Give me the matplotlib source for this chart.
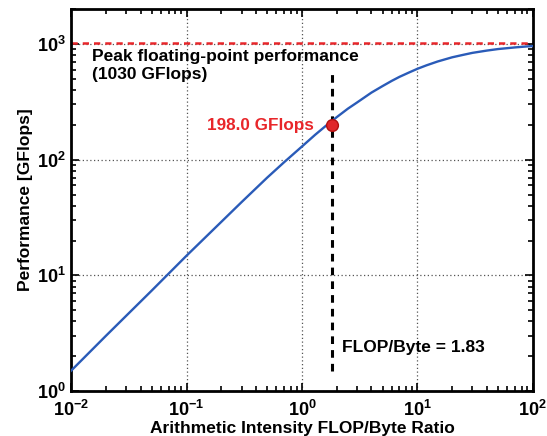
import numpy as np
import matplotlib
matplotlib.use("Agg")
import matplotlib.pyplot as plt
from matplotlib.ticker import LogLocator, FuncFormatter, NullFormatter

plt.rcParams['font.family'] = ['Liberation Sans', 'DejaVu Sans']
plt.rcParams['font.weight'] = 'bold'
plt.rcParams['mathtext.fontset'] = 'custom'
plt.rcParams['mathtext.rm'] = 'Liberation Sans:bold'
plt.rcParams['mathtext.bf'] = 'Liberation Sans:bold'

# curve
intensity = [0.01, 0.02, 0.05, 0.1, 0.2, 0.3, 0.5, 0.7, 1, 1.3, 1.6, 2, 2.5,
             3, 4, 5, 6, 7, 8.5, 10, 12, 15, 20, 25, 30, 40, 50, 60, 70, 85, 100]
perf = [1.5, 3.0, 7.4, 14.8, 29, 43, 70, 95, 130, 164, 195, 233, 276,
        312, 380, 433, 480, 520, 568, 610, 654, 706, 767, 806, 838, 877, 904,
        920, 934, 949, 960]

peak = 1030
ratio = 1.83
point_perf = 198.0
vline_range = [1.5, 590]

fig = plt.figure(figsize=(5.47, 4.36), dpi=100)
ax = fig.add_axes([0.130, 0.103, 0.844, 0.876])

ax.plot(intensity, perf, color='#2a5bb8', lw=1.7, zorder=3)
ax.plot([0.01, 100], [peak, peak], color='#e8262a', lw=1.8, ls=(0, (2.5, 2)), zorder=2)
ax.plot([ratio, ratio], vline_range, color='black', lw=2.2, ls=(0, (2.5, 2)), zorder=2)
ax.plot([ratio], [point_perf], 'o', ms=8.5, mfc='#e0262a', mec='#b01010', mew=1, zorder=4)

ax.set_xscale('log')
ax.set_yscale('log')
ax.set_xlim(0.01, 100)
ax.set_ylim(1, 2000)

ax.xaxis.set_major_locator(LogLocator(base=10, numticks=10))
ax.yaxis.set_major_locator(LogLocator(base=10, numticks=10))
ax.xaxis.set_minor_locator(LogLocator(base=10, subs=np.arange(2, 10), numticks=10))
ax.yaxis.set_minor_locator(LogLocator(base=10, subs=np.arange(2, 10), numticks=10))
fmt = FuncFormatter(lambda v, p: r'$\mathbf{10^{%d}}$' % int(round(np.log10(v))))
ax.xaxis.set_major_formatter(fmt)
ax.yaxis.set_major_formatter(fmt)
ax.xaxis.set_minor_formatter(NullFormatter())
ax.yaxis.set_minor_formatter(NullFormatter())

ax.tick_params(which='both', direction='in', top=True, right=True, width=1.2,
               labelsize=13, colors='black')
ax.tick_params(which='major', length=6)
ax.tick_params(which='minor', length=3.5)
ax.tick_params(axis='x', pad=6)
ax.tick_params(axis='y', pad=4)
for s in ax.spines.values():
    s.set_linewidth(2)

ax.grid(True, which='major', ls=(0, (1, 2)), color='#555555', lw=0.9)

ax.text(0.0152, 900, 'Peak floating-point performance\n(1030 GFlops)',
        fontsize=12.5, fontweight='bold', va='top', ha='left', linespacing=1.25)
ax.annotate('%.1f GFlops' % point_perf, (ratio, point_perf), xytext=(-13, 0),
            textcoords='offset points', color='#e8262a', fontsize=12.3,
            fontweight='bold', ha='right', va='center')
ax.text(2.22, 2.4, 'FLOP/Byte = %.2f' % ratio, fontsize=12.5, fontweight='bold',
        ha='left', va='center')

ax.set_xlabel('Arithmetic Intensity FLOP/Byte Ratio', fontsize=12.5, fontweight='bold', labelpad=1)
ax.set_ylabel('Performance [GFlops]', fontsize=12.5, fontweight='bold', labelpad=3)

fig.savefig('out.png', dpi=100)
